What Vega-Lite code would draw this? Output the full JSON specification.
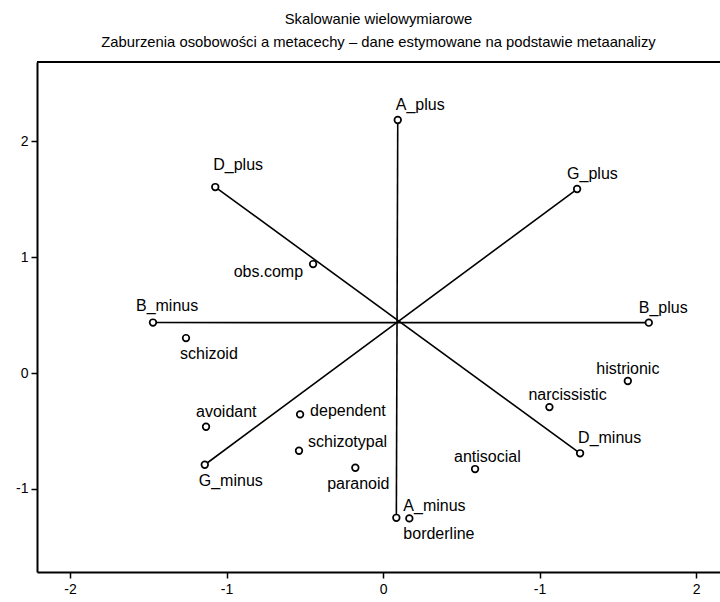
{
  "$schema": "https://vega.github.io/schema/vega-lite/v6.json",
  "autosize": {"type": "none"},
  "padding": {"left": 37, "top": 62, "right": 0, "bottom": 30},
  "width": 683,
  "height": 510,
  "background": "white",
  "title": {
    "text": "Skalowanie wielowymiarowe",
    "subtitle": "Zaburzenia osobowości a metacechy – dane estymowane na podstawie metaanalizy",
    "anchor": "middle",
    "frame": "group",
    "font": "Liberation Sans",
    "subtitleFont": "Liberation Sans",
    "fontSize": 14.8,
    "subtitleFontSize": 14.8,
    "fontWeight": "normal",
    "color": "black",
    "subtitleColor": "black",
    "subtitlePadding": 8,
    "offset": 11
  },
  "config": {
    "view": {"stroke": null},
    "axis": {
      "grid": false,
      "title": null,
      "labelFont": "Liberation Sans",
      "labelFontSize": 14,
      "labelColor": "black",
      "tickColor": "black",
      "tickWidth": 1.5,
      "tickSize": 6,
      "domainColor": "black",
      "domainWidth": 2
    },
    "text": {"font": "Liberation Sans", "fontSize": 16, "color": "black", "baseline": "middle"}
  },
  "data": {
    "values": [
      {"name": "A_plus", "x": 0.094, "y": 2.185, "trait": "A"},
      {"name": "A_minus", "x": 0.085, "y": -1.25, "trait": "A"},
      {"name": "B_plus", "x": 1.698, "y": 0.435, "trait": "B"},
      {"name": "B_minus", "x": -1.47, "y": 0.436, "trait": "B"},
      {"name": "D_plus", "x": -1.072, "y": 1.606, "trait": "D"},
      {"name": "D_minus", "x": 1.259, "y": -0.693, "trait": "D"},
      {"name": "G_plus", "x": 1.24, "y": 1.589, "trait": "G"},
      {"name": "G_minus", "x": -1.139, "y": -0.792, "trait": "G"},
      {"name": "obs.comp", "x": -0.447, "y": 0.941},
      {"name": "schizoid", "x": -1.259, "y": 0.302},
      {"name": "histrionic", "x": 1.564, "y": -0.069},
      {"name": "narcissistic", "x": 1.063, "y": -0.294},
      {"name": "avoidant", "x": -1.131, "y": -0.464},
      {"name": "dependent", "x": -0.53, "y": -0.357},
      {"name": "schizotypal", "x": -0.537, "y": -0.671},
      {"name": "paranoid", "x": -0.177, "y": -0.818},
      {"name": "antisocial", "x": 0.588, "y": -0.829},
      {"name": "borderline", "x": 0.168, "y": -1.255}
    ]
  },
  "encoding": {
    "x": {
      "field": "x", "type": "quantitative",
      "scale": {"domain": [-2.211, 2.153], "nice": false, "zero": false},
      "axis": {"orient": "bottom", "values": [-2, -1, 0, 1, 2], "labelExpr": "datum.value == 1 ? '-1' : '' + datum.value", "labelPadding": 4}
    },
    "y": {
      "field": "y", "type": "quantitative",
      "scale": {"domain": [-1.718, 2.686], "nice": false, "zero": false},
      "axis": {"orient": "left", "values": [-1, 0, 1, 2], "labelExpr": "'' + datum.value", "labelPadding": 3}
    }
  },
  "layer": [
    {
      "mark": {"type": "rule", "color": "black", "strokeWidth": 2},
      "encoding": {
        "x": null,
        "y": {"datum": 2.686, "type": "quantitative"}
      }
    },
    {
      "transform": [{"filter": "isValid(datum.trait)"}],
      "mark": {"type": "line", "color": "black", "strokeWidth": 1.6},
      "encoding": {"detail": {"field": "trait"}}
    },
    {
      "mark": {"type": "point", "shape": "circle", "filled": true, "fill": "white", "stroke": "black", "strokeWidth": 1.7, "size": 44, "opacity": 1},
      "encoding": {}
    },
    {
      "transform": [{"filter": {"field": "name", "oneOf": ["A_plus", "D_minus"]}}],
      "mark": {"type": "text", "align": "left", "dx": -2, "dy": -15},
      "encoding": {"text": {"field": "name"}}
    },
    {
      "transform": [{"filter": {"field": "name", "oneOf": ["D_plus"]}}],
      "mark": {"type": "text", "align": "left", "dx": -2, "dy": -22},
      "encoding": {"text": {"field": "name"}}
    },
    {
      "transform": [{"filter": {"field": "name", "oneOf": ["G_plus", "B_plus", "avoidant"]}}],
      "mark": {"type": "text", "align": "left", "dx": -10, "dy": -15},
      "encoding": {"text": {"field": "name"}}
    },
    {
      "transform": [{"filter": {"field": "name", "oneOf": ["B_minus"]}}],
      "mark": {"type": "text", "align": "left", "dx": -17, "dy": -17},
      "encoding": {"text": {"field": "name"}}
    },
    {
      "transform": [{"filter": {"field": "name", "oneOf": ["narcissistic", "antisocial"]}}],
      "mark": {"type": "text", "align": "left", "dx": -21, "dy": -12},
      "encoding": {"text": {"field": "name"}}
    },
    {
      "transform": [{"filter": {"field": "name", "oneOf": ["histrionic"]}}],
      "mark": {"type": "text", "align": "center", "dx": 0, "dy": -12},
      "encoding": {"text": {"field": "name"}}
    },
    {
      "transform": [{"filter": {"field": "name", "oneOf": ["obs.comp"]}}],
      "mark": {"type": "text", "align": "right", "dx": -10, "dy": 8},
      "encoding": {"text": {"field": "name"}}
    },
    {
      "transform": [{"filter": {"field": "name", "oneOf": ["dependent"]}}],
      "mark": {"type": "text", "align": "left", "dx": 10, "dy": -3},
      "encoding": {"text": {"field": "name"}}
    },
    {
      "transform": [{"filter": {"field": "name", "oneOf": ["schizotypal"]}}],
      "mark": {"type": "text", "align": "left", "dx": 9, "dy": -9},
      "encoding": {"text": {"field": "name"}}
    },
    {
      "transform": [{"filter": {"field": "name", "oneOf": ["schizoid", "G_minus", "borderline"]}}],
      "mark": {"type": "text", "align": "left", "dx": -6, "dy": 16},
      "encoding": {"text": {"field": "name"}}
    },
    {
      "transform": [{"filter": {"field": "name", "oneOf": ["paranoid"]}}],
      "mark": {"type": "text", "align": "center", "dx": 3, "dy": 16},
      "encoding": {"text": {"field": "name"}}
    },
    {
      "transform": [{"filter": {"field": "name", "oneOf": ["A_minus"]}}],
      "mark": {"type": "text", "align": "left", "dx": 7, "dy": -12},
      "encoding": {"text": {"field": "name"}}
    }
  ]
}
